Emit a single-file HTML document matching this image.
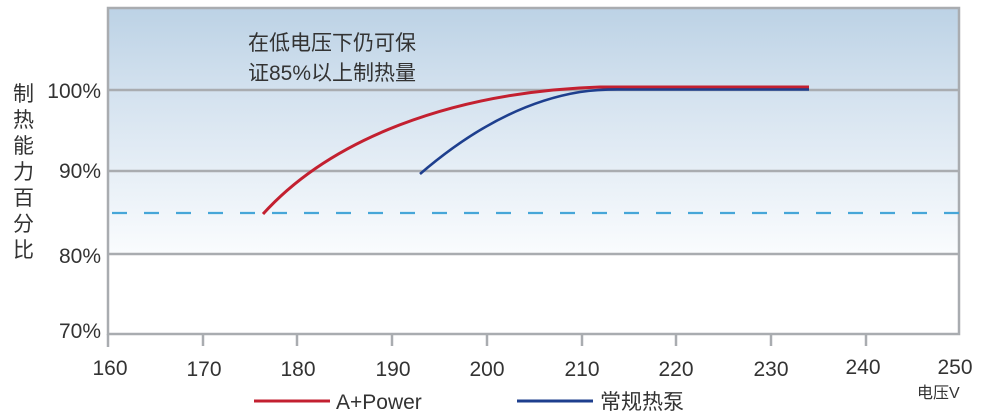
<!DOCTYPE html>
<html><head><meta charset="utf-8"><style>
body{margin:0;background:#fff;}
svg{display:block;font-family:"Liberation Sans","Noto Sans CJK SC",sans-serif;}
</style></head><body>
<svg width="991" height="416" viewBox="0 0 991 416">
<defs><linearGradient id="g" x1="0" y1="0" x2="0" y2="1">
<stop offset="0" stop-color="#bcd2e5"/><stop offset="0.35" stop-color="#d4e2ef"/><stop offset="1" stop-color="#fafcfe"/></linearGradient></defs>
<rect x="108" y="8" width="851" height="246" fill="url(#g)"/>
<rect x="108" y="254" width="851" height="80" fill="#fff"/>
<g stroke="#a9acb0" stroke-width="2.5" fill="none">
<line x1="108" y1="90" x2="959" y2="90"/>
<line x1="108" y1="171" x2="959" y2="171"/>
<line x1="108" y1="254" x2="959" y2="254"/>
<rect x="108" y="8" width="851" height="326"/>
<line x1="108" y1="334" x2="108" y2="347"/><line x1="203" y1="334" x2="203" y2="346"/><line x1="297" y1="334" x2="297" y2="346"/><line x1="392" y1="334" x2="392" y2="346"/><line x1="487" y1="334" x2="487" y2="346"/><line x1="582" y1="334" x2="582" y2="346"/><line x1="676" y1="334" x2="676" y2="346"/><line x1="771" y1="334" x2="771" y2="346"/><line x1="866" y1="334" x2="866" y2="346"/>
</g>
<line x1="112" y1="213" x2="959" y2="213" stroke="#46a6d8" stroke-width="2.2" stroke-dasharray="15,17"/>
<path d="M263 214 C330 140 450 92 600 87 L809 87" stroke="#c32030" stroke-width="3" fill="none"/>
<path d="M420 174 Q500 105 580 92 Q600 89 625 89.5 L809 89.5" stroke="#1e3f8e" stroke-width="2.6" fill="none"/>
<g font-size="21" fill="#333">
<text x="248" y="50">在低电压下仍可保</text>
<text x="248" y="80">证85%以上制热量</text>
</g>
<g font-size="21" fill="#333" text-anchor="end">
<text x="101" y="98">100%</text><text x="101" y="178">90%</text><text x="101" y="263">80%</text><text x="101" y="338">70%</text>
</g>
<g font-size="21" fill="#333">
<text x="13" y="101">制</text><text x="13" y="127">热</text><text x="13" y="153">能</text><text x="13" y="179">力</text><text x="13" y="205">百</text><text x="13" y="231">分</text><text x="13" y="257">比</text>
</g>
<g font-size="21" fill="#333" text-anchor="middle">
<text x="110" y="375">160</text><text x="204" y="376">170</text><text x="298" y="376">180</text><text x="393" y="376">190</text><text x="487" y="376">200</text><text x="582" y="376">210</text><text x="676" y="376">220</text><text x="771" y="376">230</text><text x="863" y="374">240</text><text x="955" y="374">250</text>
</g>
<text x="917" y="398" font-size="16" fill="#333">电压V</text>
<line x1="254" y1="401" x2="330" y2="401" stroke="#c32030" stroke-width="3"/>
<text x="336" y="409" font-size="21" fill="#333">A+Power</text>
<line x1="517" y1="401" x2="593" y2="401" stroke="#1e3f8e" stroke-width="3"/>
<text x="600" y="409" font-size="21" fill="#333">常规热泵</text>
</svg>
</body></html>
